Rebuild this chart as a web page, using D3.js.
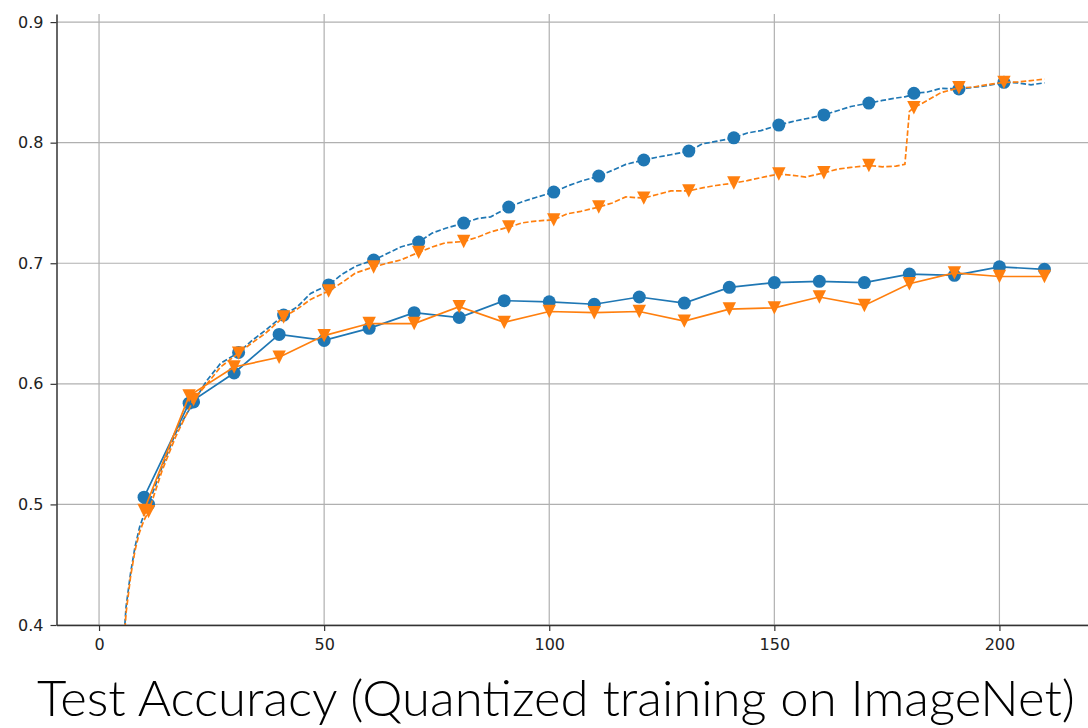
<!DOCTYPE html>
<html>
<head>
<meta charset="utf-8">
<script src="https://cdn.jsdelivr.net/npm/d3@7"></script>
<style>
  html, body { margin: 0; padding: 0; background: #fff; }
  svg { display: block; }
</style>
</head>
<body>
<svg id="chart" width="1088" height="728"></svg>
<script>
// Test accuracy per epoch (evaluated every 10 epochs)
const testEpochs = [10, 20, 30, 40, 50, 60, 70, 80, 90, 100, 110, 120, 130, 140, 150, 160, 170, 180, 190, 200, 210];
const testBlue = [0.506, 0.584, 0.609, 0.641, 0.636, 0.646, 0.659, 0.655, 0.669, 0.668, 0.666, 0.672, 0.667, 0.680, 0.684, 0.685, 0.684, 0.691, 0.690, 0.697, 0.695];
const testOrange = [0.495, 0.590, 0.614, 0.622, 0.640, 0.650, 0.650, 0.664, 0.651, 0.660, 0.659, 0.660, 0.652, 0.662, 0.663, 0.672, 0.665, 0.683, 0.692, 0.689, 0.689];

// Training accuracy curves (dashed)
const trainEpochs = [1, 2, 3, 4, 5, 6, 7, 8, 9, 10,
  11, 14, 17, 21, 24, 27, 31, 34, 37, 41, 44, 47, 51, 54, 57, 61, 64, 67,
  71, 74, 77, 81, 84, 87, 91, 94, 97, 101, 104, 107, 111, 114, 117, 121, 124, 127,
  131, 134, 137, 141, 144, 147, 151, 154, 157, 161, 164, 167, 171, 174, 177, 179, 180,
  181, 184, 187, 191, 194, 197, 201, 204, 207, 210];
const trainBlue = [0.08, 0.17, 0.25, 0.31, 0.36, 0.415, 0.443, 0.465, 0.481, 0.492,
  0.500, 0.531, 0.559, 0.585, 0.603, 0.617, 0.626, 0.636, 0.6445, 0.657, 0.6637, 0.675, 0.682, 0.691, 0.6975, 0.7027, 0.708, 0.7135,
  0.7176, 0.725, 0.729, 0.7333, 0.737, 0.7385, 0.7466, 0.751, 0.7545, 0.759, 0.764, 0.768, 0.7723, 0.777, 0.782, 0.7856, 0.788, 0.790,
  0.793, 0.799, 0.801, 0.804, 0.808, 0.810, 0.8146, 0.8175, 0.8198, 0.823, 0.8265, 0.830, 0.8328, 0.835, 0.837, 0.838, 0.839,
  0.841, 0.842, 0.845, 0.8445, 0.8458, 0.8472, 0.850, 0.8496, 0.848, 0.8496];
const trainOrange = [0.07, 0.16, 0.24, 0.30, 0.355, 0.41, 0.44, 0.462, 0.477, 0.487,
  0.494, 0.528, 0.556, 0.587, 0.600, 0.614, 0.6255, 0.634, 0.642, 0.6554, 0.662, 0.670, 0.677, 0.684, 0.692, 0.6969, 0.700, 0.7027,
  0.709, 0.7135, 0.717, 0.718, 0.7215, 0.726, 0.730, 0.7335, 0.735, 0.736, 0.741, 0.743, 0.7466, 0.750, 0.755, 0.754, 0.757, 0.760,
  0.760, 0.7625, 0.7645, 0.7665, 0.7685, 0.771, 0.774, 0.773, 0.7715, 0.775, 0.778, 0.7795, 0.781, 0.780, 0.7805, 0.782, 0.826,
  0.829, 0.835, 0.8415, 0.8455, 0.846, 0.848, 0.850, 0.8503, 0.8515, 0.8527];
const trainMarkEpochs = [1, 11, 21, 31, 41, 51, 61, 71, 81, 91, 101, 111, 121, 131, 141, 151, 161, 171, 181, 191, 201];

const xTicks = [0, 50, 100, 150, 200];
const yTicks = [0.4, 0.5, 0.6, 0.7, 0.8, 0.9];
const titleText = "Test Accuracy (Quantized training on ImageNet)";

const BLUE = "#1f77b4", ORANGE = "#ff7f0e";

const svg = d3.select("#chart");
const plotLeft = 56.5, plotRight = 1091.5, plotTop = 14, plotBottom = 625;

const x = d3.scaleLinear().domain([-9.45, 220.45]).range([plotLeft, plotRight]);
const y = d3.scaleLinear().domain([0.4, 0.9067]).range([plotBottom, plotTop]);

// clip region for the plotting area
svg.append("defs").append("clipPath").attr("id", "plotArea")
  .append("rect").attr("x", plotLeft).attr("y", plotTop)
  .attr("width", plotRight - plotLeft).attr("height", plotBottom - plotTop);

// grid
const grid = svg.append("g").attr("stroke", "#b0b0b0").attr("stroke-width", 1.2);
grid.selectAll("line.vx").data(xTicks).join("line")
  .attr("x1", d => x(d)).attr("x2", d => x(d)).attr("y1", plotTop).attr("y2", plotBottom);
grid.selectAll("line.hy").data(yTicks).join("line")
  .attr("x1", plotLeft).attr("x2", plotRight).attr("y1", d => y(d)).attr("y2", d => y(d));

const plot = svg.append("g").attr("clip-path", "url(#plotArea)");

const line = d3.line().x(d => x(d[0])).y(d => y(d[1]));

function drawCircles(g, pts, color) {
  g.selectAll(null).data(pts).join("circle")
    .attr("cx", d => x(d[0])).attr("cy", d => y(d[1])).attr("r", 6.5)
    .attr("fill", color);
}
function drawTriangles(g, pts, color) {
  const h = 6.7;
  g.selectAll(null).data(pts).join("path")
    .attr("d", d => {
      const cx = x(d[0]), cy = y(d[1]);
      return `M${cx - h},${cy - h}L${cx + h},${cy - h}L${cx},${cy + h}Z`;
    })
    .attr("fill", color);
}

function series(epochs, vals) { return epochs.map((e, i) => [e, vals[i]]); }

const trainB = series(trainEpochs, trainBlue);
const trainO = series(trainEpochs, trainOrange);
const testB = series(testEpochs, testBlue);
const testO = series(testEpochs, testOrange);
const marksOf = s => s.filter(d => trainMarkEpochs.includes(d[0]));

// blue: training (dashed) then test (solid)
plot.append("path").datum(trainB).attr("d", line).attr("fill", "none")
  .attr("stroke", BLUE).attr("stroke-width", 1.7).attr("stroke-dasharray", "5.5,2.4");
drawCircles(plot.append("g"), marksOf(trainB), BLUE);
plot.append("path").datum(testB).attr("d", line).attr("fill", "none")
  .attr("stroke", BLUE).attr("stroke-width", 1.7);
drawCircles(plot.append("g"), testB, BLUE);

// orange: training (dashed) then test (solid)
plot.append("path").datum(trainO).attr("d", line).attr("fill", "none")
  .attr("stroke", ORANGE).attr("stroke-width", 1.7).attr("stroke-dasharray", "5.5,2.4");
drawTriangles(plot.append("g"), marksOf(trainO), ORANGE);
plot.append("path").datum(testO).attr("d", line).attr("fill", "none")
  .attr("stroke", ORANGE).attr("stroke-width", 1.7);
drawTriangles(plot.append("g"), testO, ORANGE);

// axes
const axisFont = "DejaVu Sans, sans-serif";
const yAxis = svg.append("g").attr("transform", `translate(${plotLeft},0)`)
  .call(d3.axisLeft(y).tickValues(yTicks).tickFormat(d3.format(".1f")).tickSize(6).tickPadding(7).tickSizeOuter(0));
const xAxis = svg.append("g").attr("transform", `translate(0,${plotBottom})`)
  .call(d3.axisBottom(x).tickValues(xTicks).tickFormat(d3.format("d")).tickSize(6).tickPadding(8).tickSizeOuter(0));
[yAxis, xAxis].forEach(a => {
  a.selectAll("text").attr("font-family", axisFont).attr("font-size", 16).attr("fill", "#222");
  a.selectAll(".tick line").attr("stroke", "#333").attr("stroke-width", 1.2);
  a.select(".domain").attr("stroke", "#333").attr("stroke-width", 1.5);
});

// title below the chart
svg.append("text")
  .attr("x", 37).attr("y", 716)
  .attr("font-family", "Lato, 'Open Sans', sans-serif")
  .attr("font-weight", 300)
  .attr("font-size", 49)
  .attr("fill", "#000")
  .attr("textLength", 1038).attr("lengthAdjust", "spacingAndGlyphs")
  .text(titleText);
</script>
</body>
</html>
